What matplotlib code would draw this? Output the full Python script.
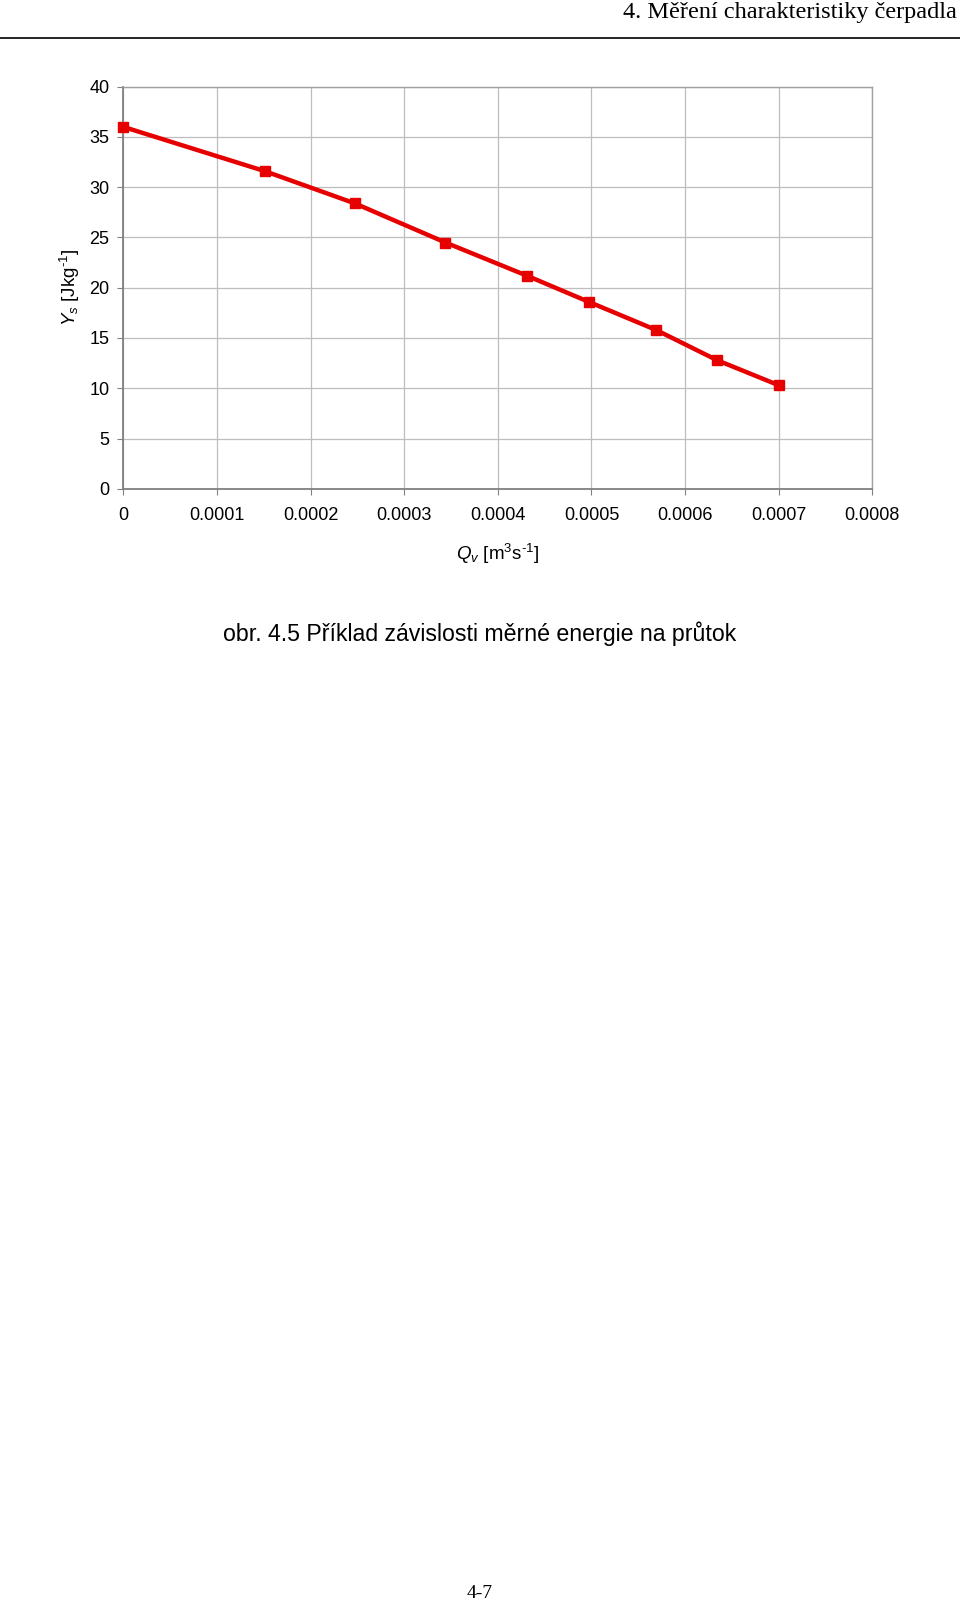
import numpy as np
import matplotlib
matplotlib.use("Agg")
import matplotlib.pyplot as plt

plt.rcParams['font.family'] = 'Liberation Sans'
plt.rcParams['mathtext.fontset'] = 'custom'
plt.rcParams['mathtext.rm'] = 'Liberation Sans'
plt.rcParams['mathtext.it'] = 'Liberation Sans:italic'

# data
flow = [0.0, 0.000151, 0.000247, 0.000344, 0.000431, 0.000497, 0.000569, 0.000634, 0.000700]
energy = [36.0, 31.6, 28.4, 24.5, 21.2, 18.6, 15.8, 12.8, 10.3]
xticks = [0, 0.0001, 0.0002, 0.0003, 0.0004, 0.0005, 0.0006, 0.0007, 0.0008]
xticklabels = ['0', '0.0001', '0.0002', '0.0003', '0.0004', '0.0005', '0.0006', '0.0007', '0.0008']
yticks = [0, 5, 10, 15, 20, 25, 30, 35, 40]

fig = plt.figure(figsize=(9.6, 16.03), dpi=100)

# page header
fig.text(0.997, 0.9985, '4. Měření charakteristiky čerpadla', ha='right', va='top',
         family='Liberation Serif', fontsize=17.5)
fig.add_artist(plt.Line2D([0, 1], [1 - 37.5/1603, 1 - 37.5/1603], color='black', lw=1.2))

ax = fig.add_axes([0.1286, 0.6951, 0.7800, 0.2508])
ax.plot(flow, energy, color='#e60000', lw=3.2, marker='s', markersize=7.5, zorder=3, clip_on=False)

ax.set_xlim(0, 0.0008)
ax.set_ylim(0, 40)
ax.set_xticks(xticks)
ax.set_xticklabels(xticklabels)
ax.set_yticks(yticks)
ax.grid(True, color='#bdbdbd', lw=0.9)
ax.set_axisbelow(True)
for s in ['left', 'bottom']:
    ax.spines[s].set_color('#808080')
    ax.spines[s].set_linewidth(1.3)
for s in ['top', 'right']:
    ax.spines[s].set_color('#a0a0a0')
    ax.spines[s].set_linewidth(1.0)
ax.tick_params(axis='both', direction='out', length=4, color='#808080', labelsize=13, pad=6)
ax.tick_params(axis='x', pad=9)

ax.set_xlabel(r'$Q_v$ [m$^3$s$^{\text{-1}}$]', fontsize=13.5, labelpad=13)
ax.set_ylabel(r'$Y_s$ [Jkg$^{\text{-1}}$]', fontsize=13.5, labelpad=5)

# caption and page number
fig.text(0.5, 1 - 634/1603, 'obr. 4.5 Příklad závislosti měrné energie na průtok',
         ha='center', va='center', fontsize=16.7)
fig.text(0.5, 1 - 1593/1603, '4-7', ha='center', va='center',
         family='Liberation Serif', fontsize=14)

fig.savefig('out.png', dpi=100)
